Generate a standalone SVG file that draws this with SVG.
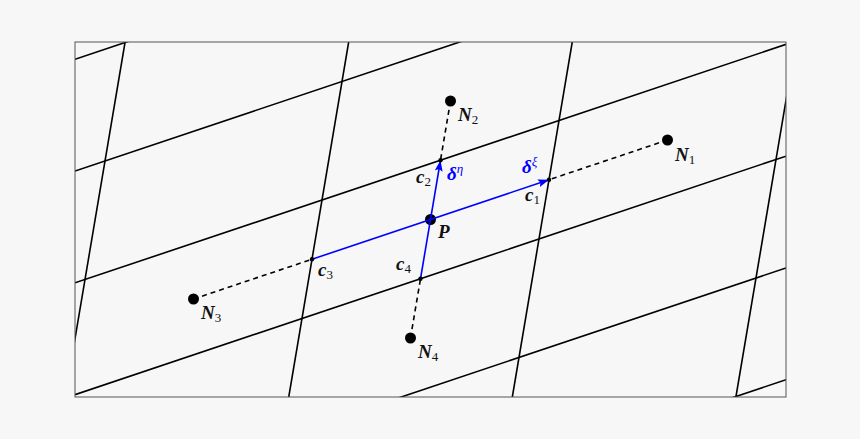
<svg xmlns="http://www.w3.org/2000/svg" width="860" height="439" viewBox="0 0 860 439">
  <style>
    .grid { stroke: #000; stroke-width: 1.6; fill: none; }
    .dash { stroke: #000; stroke-width: 1.6; stroke-dasharray: 5 4; fill: none; }
    .blue { stroke: #0000ff; stroke-width: 1.6; fill: none; }
    .lbl { font-family: "Liberation Serif", "DejaVu Serif", serif; font-size: 19px; font-style: italic; font-weight: bold; fill: #111; }
    .sub { font-style: normal; font-weight: normal; font-size: 13px; }
    .sup { font-style: italic; font-weight: normal; font-size: 13px; }
    .bl { fill: #0000ff; }
  </style>
  <defs>
    <clipPath id="frame"><rect x="75" y="42" width="711" height="355"/></clipPath>
    <marker id="arr" viewBox="0 0 11 8" refX="11" refY="4" markerWidth="11" markerHeight="8" markerUnits="userSpaceOnUse" orient="auto">
      <path d="M0,0 L11,4 L0,8 L2,4 z" fill="#0000ff"/>
    </marker>
  </defs>
  <rect width="860" height="439" fill="#f7f7f7"/>
  <g id="mesh" clip-path="url(#frame)">
    <line class="grid" x1="75" y1="59.27" x2="786" y2="-179.2"/>
    <line class="grid" x1="75" y1="171.06" x2="786" y2="-67.44"/>
    <line class="grid" x1="75" y1="282.85" x2="786" y2="44.35"/>
    <line class="grid" x1="75" y1="394.64" x2="786" y2="156.14"/>
    <line class="grid" x1="75" y1="506.43" x2="786" y2="267.93"/>
    <line class="grid" x1="75" y1="618.22" x2="786" y2="379.72"/>
    <line class="grid" x1="125.09" y1="42" x2="65.17" y2="397"/>
    <line class="grid" x1="348.67" y1="42" x2="288.75" y2="397"/>
    <line class="grid" x1="572.25" y1="42" x2="512.33" y2="397"/>
    <line class="grid" x1="795.83" y1="42" x2="735.91" y2="397"/>
  </g>
  <rect id="border" x="75" y="42" width="711" height="355" fill="none" stroke="#555" stroke-width="1"/>
  <g id="connectors">
    <line class="dash" x1="667.5" y1="140" x2="549" y2="179.75"/>
    <line class="dash" x1="450.5" y1="101" x2="440.5" y2="160.25"/>
    <line class="dash" x1="193.5" y1="299" x2="312" y2="259.25"/>
    <line class="dash" x1="410.5" y1="338" x2="420.5" y2="278.75"/>
  </g>
  <g id="P">
    <circle cx="430.5" cy="219.5" r="5.5" fill="#000"/>
    <text class="lbl" x="438" y="238">P</text>
  </g>
  <g id="vectors">
    <line class="blue" x1="312" y1="259.25" x2="549" y2="179.75" marker-end="url(#arr)"/>
    <line class="blue" x1="420.5" y1="278.75" x2="440.5" y2="160.25" marker-end="url(#arr)"/>
  </g>
  <g id="N1"><circle cx="667.5" cy="140" r="5.5" fill="#000"/><text class="lbl" x="675" y="161">N<tspan class="sub" dy="3">1</tspan></text></g>
  <g id="N2"><circle cx="450.5" cy="101" r="5.5" fill="#000"/><text class="lbl" x="458" y="121">N<tspan class="sub" dy="3">2</tspan></text></g>
  <g id="N3"><circle cx="193.5" cy="299" r="5.5" fill="#000"/><text class="lbl" x="201" y="319">N<tspan class="sub" dy="3">3</tspan></text></g>
  <g id="N4"><circle cx="410.5" cy="338" r="5.5" fill="#000"/><text class="lbl" x="418" y="358">N<tspan class="sub" dy="3">4</tspan></text></g>
  <g id="c1"><circle cx="549" cy="179.75" r="2.2" fill="#000"/><text class="lbl" x="525" y="201">c<tspan class="sub" dy="3">1</tspan></text></g>
  <g id="c2"><circle cx="440.5" cy="160.25" r="2.2" fill="#000"/><text class="lbl" x="416" y="183">c<tspan class="sub" dy="3">2</tspan></text></g>
  <g id="c3"><circle cx="312" cy="259.25" r="2.2" fill="#000"/><text class="lbl" x="318" y="276">c<tspan class="sub" dy="3">3</tspan></text></g>
  <g id="c4"><circle cx="420.5" cy="278.75" r="2.2" fill="#000"/><text class="lbl" x="396" y="270">c<tspan class="sub" dy="3">4</tspan></text></g>
  <g id="delta-eta"><text class="lbl bl" x="447" y="180">δ<tspan class="sup" dy="-7">η</tspan></text></g>
  <g id="delta-xi"><text class="lbl bl" x="522" y="173">δ<tspan class="sup" dy="-7">ξ</tspan></text></g>
</svg>
